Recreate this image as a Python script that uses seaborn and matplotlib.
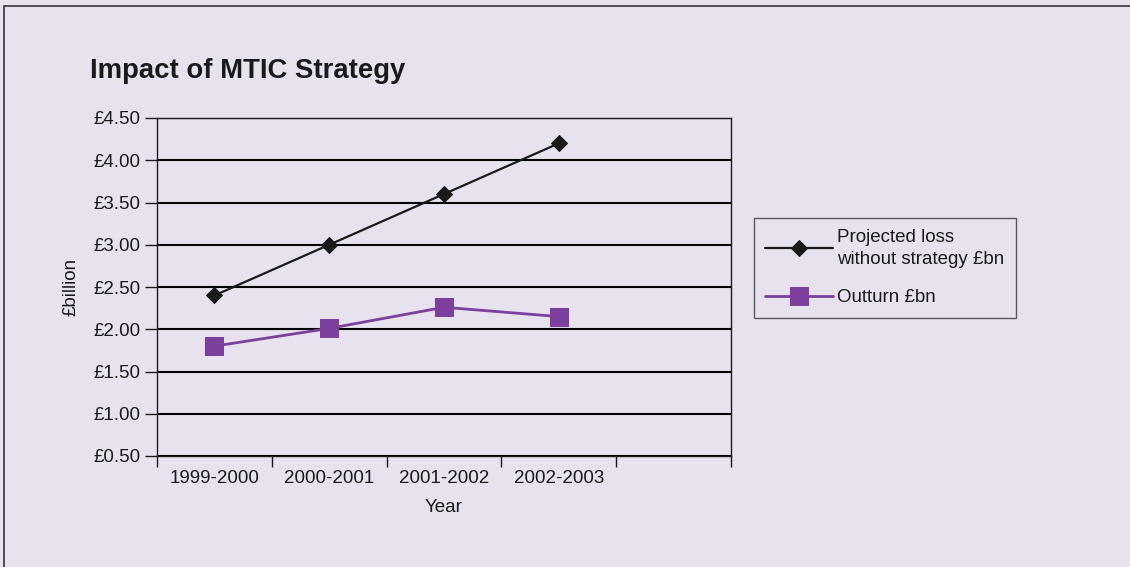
import matplotlib
matplotlib.use("Agg")
import matplotlib.pyplot as plt
import matplotlib.patches as patches
from matplotlib.ticker import FixedLocator
import seaborn as sns
import pandas as pd

# Datos
years = ["1999-2000", "2000-2001", "2001-2002", "2002-2003"]
projected = [2.40, 3.00, 3.60, 4.20]
outturn = [1.80, 2.01, 2.26, 2.15]
y_ticks = [0.5, 1.0, 1.5, 2.0, 2.5, 3.0, 3.5, 4.0, 4.5]

bg = "#E8E2EF"
purple = "#7D3F9E"
fs = 13.5

sns.set_theme(style="white")
plt.rcParams['font.family'] = ['Liberation Sans', 'DejaVu Sans']

df = pd.DataFrame({'year': years, 'projected': projected, 'outturn': outturn})

fig = plt.figure(figsize=(11.3, 5.67), dpi=100, facecolor=bg)
ax = fig.add_axes([157 / 1130, 1 - 456 / 567, (731 - 157) / 1130, (456 - 118) / 567])
ax.set_facecolor(bg)

sns.lineplot(data=df, x='year', y='projected', ax=ax, color='#1a1a1a', linewidth=1.6,
             marker='D', markersize=8.5, markeredgecolor='#1a1a1a', sort=False,
             label='Projected loss\nwithout strategy £bn')
sns.lineplot(data=df, x='year', y='outturn', ax=ax, color=purple, linewidth=2,
             marker='s', markersize=13, markeredgecolor=purple, sort=False,
             label='Outturn £bn')

ax.set_xlim(-0.5, 4.5)
ax.set_ylim(0.5, 4.5)
ax.set_yticks(y_ticks)
ax.set_yticklabels([f"£{v:.2f}" for v in y_ticks])
ax.set_xticks(range(len(years)))
ax.set_xticklabels(years)
ax.xaxis.set_minor_locator(FixedLocator([i - 0.5 for i in range(len(years) + 2)]))
ax.tick_params(axis='x', which='major', length=0, pad=10, labelsize=fs, colors='#1a1a1a')
ax.tick_params(axis='x', which='minor', length=8, width=1, direction='out', color='#1a1a1a', bottom=True)
ax.tick_params(axis='y', length=9, width=1, direction='out', left=True, labelsize=fs,
               colors='#1a1a1a', pad=3)
ax.grid(axis='y', color='black', linewidth=1.5)
ax.grid(axis='x', visible=False)
for s in ax.spines.values():
    s.set_color('#1a1a1a')
    s.set_linewidth(1)

ax.set_xlabel('Year', fontsize=fs, color='#1a1a1a', labelpad=9)
ax.set_ylabel('£billion', fontsize=fs, color='#1a1a1a', labelpad=10)

ax.get_legend().remove()
handles, labels = ax.get_legend_handles_labels()
leg = fig.legend(handles, labels, loc='upper left', bbox_to_anchor=(754 / 1130, 1 - 218 / 567),
                 frameon=True, fancybox=False, edgecolor='#333333', facecolor=bg,
                 fontsize=fs, handlelength=3.6, handletextpad=0.25, labelspacing=1.15,
                 borderpad=0.6, borderaxespad=0)
leg.get_frame().set_linewidth(1)
for t in leg.get_texts():
    t.set_color('#1a1a1a')
    t.set_linespacing(1.35)

fig.text(90 / 1130, 1 - 71 / 567, 'Impact of MTIC Strategy', fontsize=19.8, fontweight='bold',
         color='#1a1a1a', va='center', ha='left')

# Borde de la figura
fig.patches.append(patches.Rectangle((4 / 1130, -0.1), 1.2, 1.1 - 6 / 567, transform=fig.transFigure,
                                     fill=False, edgecolor='#333333', linewidth=1.2))

fig.savefig('out.png', dpi=100, facecolor=bg)
